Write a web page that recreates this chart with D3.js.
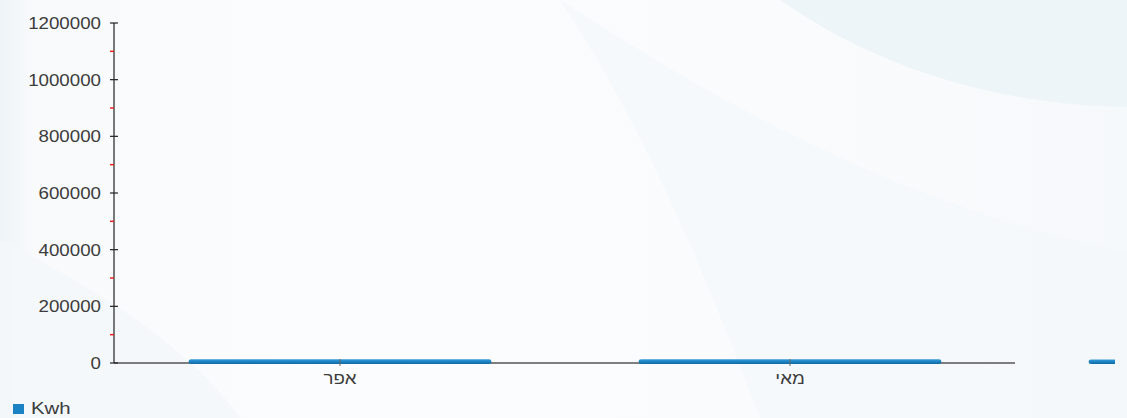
<!DOCTYPE html>
<html>
<head>
<meta charset="utf-8">
<script src="https://cdn.jsdelivr.net/npm/d3@7"></script>
<style>
  html, body { margin: 0; padding: 0; background: #f7f9fc; }
  svg { display: block; }
  text { font-family: "Liberation Sans", Arial, sans-serif; fill: #3c3c3c; }
</style>
</head>
<body>
<svg id="chart" width="1127" height="418"></svg>
<script>
// ---- data ----
const categories = ["אפר", "מאי", "יוני"];
const kwhValues = [13000, 13000, 12000];
const seriesName = "Kwh";
const yTickValues = [0, 200000, 400000, 600000, 800000, 1000000, 1200000];
const yMinorTickValues = [100000, 300000, 500000, 700000, 900000, 1100000];

const W = 1127, H = 418;
const svg = d3.select("#chart");
const SX = 1.17; // horizontal stretch of the text, as in the reference
const clipRight = 1115;

// ---- background ----
const defs = svg.append("defs");
const bg = defs.append("linearGradient").attr("id", "bg").attr("x1", 0).attr("y1", 0).attr("x2", 1).attr("y2", 0);
bg.append("stop").attr("offset", 0).attr("stop-color", "#eff4f8");
bg.append("stop").attr("offset", 0.03).attr("stop-color", "#f8fafc");
bg.append("stop").attr("offset", 0.3).attr("stop-color", "#fbfcfd");
bg.append("stop").attr("offset", 0.7).attr("stop-color", "#fafbfd");
bg.append("stop").attr("offset", 1).attr("stop-color", "#f6f9fb");
svg.append("rect").attr("width", W).attr("height", H).attr("fill", "url(#bg)");
svg.append("path")
  .attr("d", "M560,0 C700,90 880,200 1127,253 L1127,418 L760,418 C700,260 640,120 560,0 Z")
  .attr("fill", "#f4f8fb").attr("opacity", 0.7);
svg.append("path")
  .attr("d", "M780,0 C880,70 1000,105 1127,107 L1127,0 Z")
  .attr("fill", "#eef5f9");
svg.append("path")
  .attr("d", "M0,240 C120,300 200,360 240,418 L0,418 Z")
  .attr("fill", "#f4f7fa").attr("opacity", 0.8);

const clip = defs.append("clipPath").attr("id", "plotClip");
clip.append("rect").attr("x", 0).attr("y", 0).attr("width", clipRight).attr("height", H);

// ---- scales ----
const x0 = 115, bandW = 450;
const x = d3.scaleBand()
  .domain(categories)
  .range([x0, x0 + bandW * categories.length])
  .paddingInner(0.327)
  .paddingOuter(0.1635);
const y = d3.scaleLinear().domain([0, 1200000]).range([363, 23]);
const axisX = 114;

// ---- bars ----
const bg2 = defs.append("linearGradient").attr("id", "bar").attr("x1", 0).attr("y1", 0).attr("x2", 0).attr("y2", 1);
bg2.append("stop").attr("offset", 0).attr("stop-color", "#3a9ad6");
bg2.append("stop").attr("offset", 0.5).attr("stop-color", "#1b82c4");
bg2.append("stop").attr("offset", 1).attr("stop-color", "#0f6aa3");

// x axis line (only across the first two categories, as in the reference)
svg.append("line")
  .attr("x1", axisX).attr("x2", x0 + bandW * 2)
  .attr("y1", y(0)).attr("y2", y(0))
  .attr("stroke", "#555").attr("stroke-width", 1.3);

svg.append("g").attr("clip-path", "url(#plotClip)").selectAll("rect")
  .data(categories.map((c, i) => ({ c, v: kwhValues[i] })))
  .join("rect")
  .attr("x", d => x(d.c))
  .attr("width", x.bandwidth())
  .attr("y", d => y(d.v))
  .attr("height", d => y(0) - y(d.v) + 1)
  .attr("rx", 2.5)
  .attr("fill", "url(#bar)");

// x ticks + labels (only those inside the visible plot)
const visibleCats = categories.filter(c => x(c) + x.bandwidth() / 2 < clipRight);
const xg = svg.append("g");
xg.selectAll("line")
  .data(visibleCats)
  .join("line")
  .attr("x1", d => x(d) + x.bandwidth() / 2)
  .attr("x2", d => x(d) + x.bandwidth() / 2)
  .attr("y1", y(0) - 4).attr("y2", y(0) + 3)
  .attr("stroke", "#666").attr("stroke-width", 1);
xg.selectAll("text")
  .data(visibleCats)
  .join("text")
  .attr("transform", d => `translate(${x(d) + x.bandwidth() / 2},384) scale(${SX},1)`)
  .attr("text-anchor", "middle")
  .attr("font-size", 16)
  .text(d => d);

// ---- y axis ----
svg.append("line")
  .attr("x1", axisX).attr("x2", axisX)
  .attr("y1", y(1200000)).attr("y2", y(0))
  .attr("stroke", "#222").attr("stroke-width", 1.2);

const yg = svg.append("g");
yg.selectAll("line.major")
  .data(yTickValues)
  .join("line").attr("class", "major")
  .attr("x1", axisX - 4).attr("x2", axisX + 4)
  .attr("y1", d => y(d)).attr("y2", d => y(d))
  .attr("stroke", "#222").attr("stroke-width", 1.2);
yg.selectAll("line.minor")
  .data(yMinorTickValues)
  .join("line").attr("class", "minor")
  .attr("x1", axisX - 4).attr("x2", axisX)
  .attr("y1", d => y(d)).attr("y2", d => y(d))
  .attr("stroke", "#ee2222").attr("stroke-width", 1.5);
yg.selectAll("text")
  .data(yTickValues)
  .join("text")
  .attr("transform", d => `translate(101,${y(d) + 6}) scale(${SX},1)`)
  .attr("text-anchor", "end")
  .attr("font-size", 16)
  .text(d => d3.format("d")(d));

// ---- legend ----
const lg = svg.append("g");
lg.append("rect")
  .attr("x", 13).attr("y", 404).attr("width", 11).attr("height", 10)
  .attr("fill", "#1b82c4");
lg.append("text")
  .attr("transform", `translate(31,414) scale(1.2,1)`)
  .attr("font-size", 17)
  .text(seriesName);
</script>
</body>
</html>
